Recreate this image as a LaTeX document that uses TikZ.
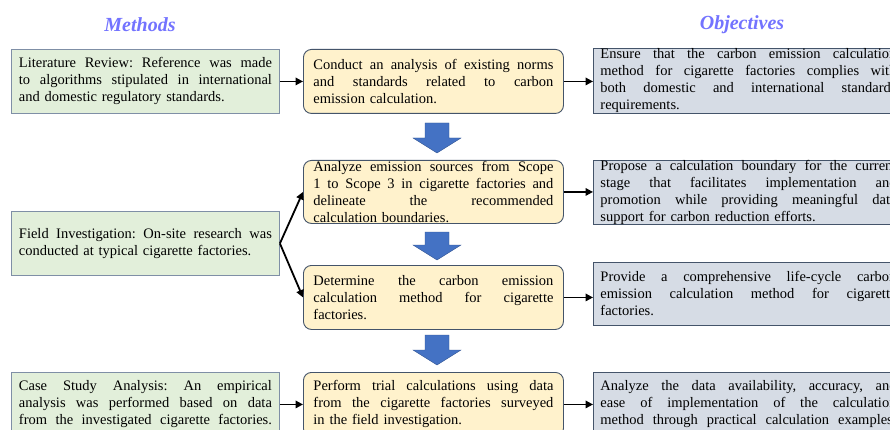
\documentclass[tikz,border=0pt]{standalone}
\usepackage{fontspec}
\setmainfont{Liberation Serif}
\usetikzlibrary{arrows.meta}
\definecolor{gfill}{HTML}{E2EFDA}
\definecolor{gborder}{HTML}{7F8FA6}
\definecolor{yfill}{HTML}{FFF2CC}
\definecolor{yborder}{HTML}{44546A}
\definecolor{bfill}{HTML}{D6DCE5}
\definecolor{bborder}{HTML}{44546A}
\definecolor{arrowblue}{HTML}{4472C4}
\definecolor{titleblue}{HTML}{7373FF}
\newlength{\jw}
\newcommand{\JL}[1]{\makebox[\jw][s]{\frenchspacing\spaceskip=0.25em plus 1em\xspaceskip=0pt\relax #1}}
\newcommand{\bArrow}[3]{%
  \fill[arrowblue,draw=arrowblue!75!black,line width=0.4pt]
    ({#1-12},#2) -- ({#1+12},#2) -- ({#1+12},{#3-15}) -- ({#1+24},{#3-15})
    -- (#1,#3) -- ({#1-24},{#3-15}) -- ({#1-12},{#3-15}) -- cycle;}
\tikzset{
  boxfont/.style={font=\fontsize{14.5}{17}\selectfont},
  lbox/.style={draw=gborder, fill=gfill, line width=0.9pt, minimum width=268pt,
    minimum height=64pt, inner sep=0pt, anchor=north west},
  mbox/.style={draw=yborder, fill=yfill, line width=0.9pt, rounded corners=8pt,
    minimum width=260pt, minimum height=64pt, inner sep=0pt, anchor=north west},
  rbox/.style={draw=bborder, fill=bfill, line width=0.9pt, minimum width=310pt,
    minimum height=64pt, inner sep=0pt, anchor=north west},
  ltext/.style={boxfont, text width=253pt, align=left, inner sep=0pt,
    execute at begin node={\setlength{\jw}{253pt}}},
  mtext/.style={boxfont, text width=240pt, align=left, inner sep=0pt,
    execute at begin node={\setlength{\jw}{240pt}}},
  rtext/.style={boxfont, text width=296pt, align=left, inner sep=0pt,
    execute at begin node={\setlength{\jw}{296pt}}},
  conn/.style={line width=1.8pt, -{Triangle[length=7.5pt,width=7.5pt]}},
  title/.style={text=titleblue, font=\fontsize{20}{23}\selectfont\bfseries\itshape}
}
\begin{document}
\begin{tikzpicture}[x=1pt,y=-1pt]
\useasboundingbox (0,0) rectangle (890,430);
\fill[white] (0,0) rectangle (890,430);
\clip (0,0) rectangle (890,430);

\node[title] (tmeth) at (140,25) {Methods};
\node[title] (tobj) at (742,25) {Objectives};

% left column
\node[lbox] (l1) at (11,49) {};
\node[ltext] at (l1.center) {\JL{Literature Review: Reference was made}\\
\JL{to algorithms stipulated in international}\\
and domestic regulatory standards.};
\node[lbox] (l2) at (11,211) {};
\node[ltext] at (l2.center) {\JL{Field Investigation: On-site research was}\\
conducted at typical cigarette factories.};
\node[lbox] (l3) at (11,372) {};
\node[ltext] at (l3.center) {\JL{Case Study Analysis: An empirical}\\
\JL{analysis was performed based on data}\\
\JL{from the investigated cigarette factories.}};

% middle column
\node[mbox] (m1) at (303,49) {};
\node[mtext] at (m1.center) {\JL{Conduct an analysis of existing norms}\\
\JL{and standards related to carbon}\\
emission calculation.};
\node[mbox,minimum height=63pt] (m2) at (303,160) {};
\node[mtext] at (m2.center) {\JL{Analyze emission sources from Scope}\\
\JL{1 to Scope 3 in cigarette factories and}\\
\JL{delineate the recommended}\\
calculation boundaries.};
\node[mbox] (m3) at (303,265) {};
\node[mtext] at (m3.center) {\JL{Determine the carbon emission}\\
\JL{calculation method for cigarette}\\
factories.};
\node[mbox] (m4) at (303,372) {};
\node[mtext] at (m4.center) {\JL{Perform trial calculations using data}\\
\JL{from the cigarette factories surveyed}\\
in the field investigation.};

% right column
\node[rbox,minimum height=65pt] (r1) at (593,48) {};
\node[rtext] at (r1.center) {\JL{Ensure that the carbon emission calculation}\\
\JL{method for cigarette factories complies with}\\
\JL{both domestic and international standards}\\
requirements.};
\node[rbox] (r2) at (593,160) {};
\node[rtext] at (r2.center) {\JL{Propose a calculation boundary for the current}\\
\JL{stage that facilitates implementation and}\\
\JL{promotion while providing meaningful data}\\
support for carbon reduction efforts.};
\node[rbox,minimum height=63pt] (r3) at (593,262) {};
\node[rtext] at (r3.center) {\JL{Provide a comprehensive life-cycle carbon}\\
\JL{emission calculation method for cigarette}\\
factories.};
\node[rbox] (r4) at (593,372) {};
\node[rtext] at (r4.center) {\JL{Analyze the data availability, accuracy, and}\\
\JL{ease of implementation of the calculation}\\
\JL{method through practical calculation examples.}};

% connectors
\draw[conn] (l1.east) -- (m1.west);
\draw[conn] (m1.east) -- (r1.west |- m1.east);
\draw[conn] (l2.east) -- (m2.west);
\draw[conn] (l2.east) -- (m3.west);
\draw[conn] (m2.east) -- (r2.west |- m2.east);
\draw[conn] (m3.east) -- (r3.west |- m3.east);
\draw[conn] (l3.east) -- (m4.west);
\draw[conn] (m4.east) -- (r4.west |- m4.east);

% block arrows
\bArrow{437}{123}{153}
\bArrow{437}{232}{260}
\bArrow{437}{335}{365}
\end{tikzpicture}
\end{document}
